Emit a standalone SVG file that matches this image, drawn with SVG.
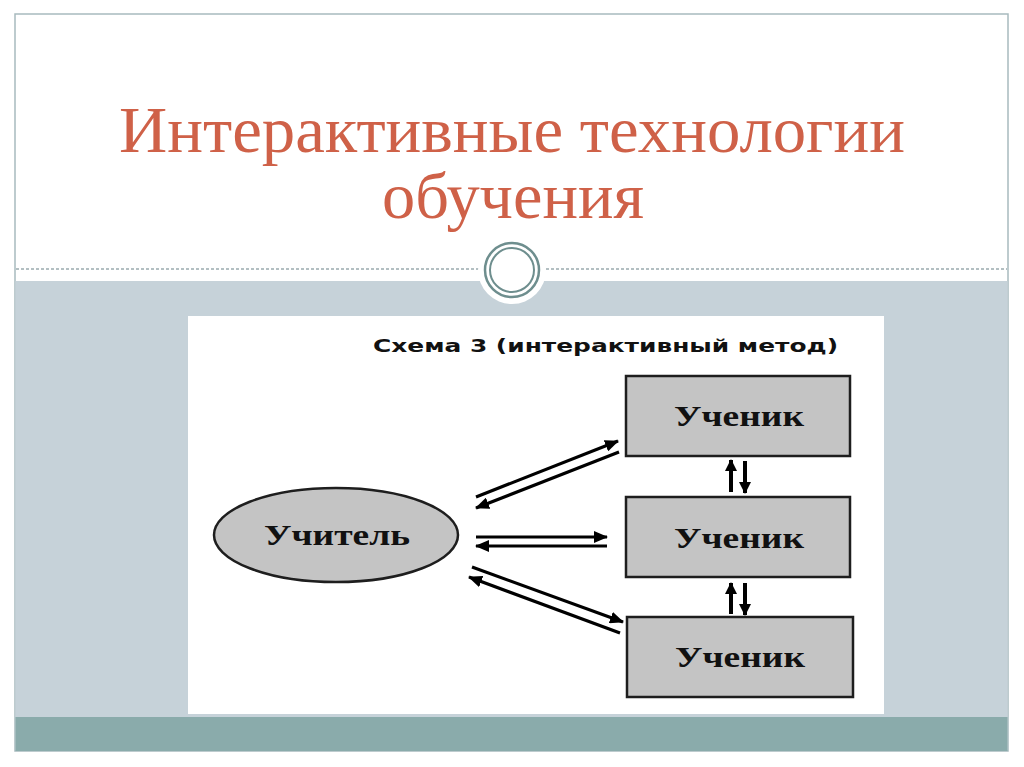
<svg xmlns="http://www.w3.org/2000/svg" width="1024" height="767" viewBox="0 0 1024 767">
<defs>
<style>
.title{font-family:"Liberation Serif","DejaVu Serif",serif;font-size:66px;fill:#cf6148;text-anchor:middle}
.node{fill:#c4c4c4;stroke:#1e1e1e;stroke-width:2.5}
.lbl{font-family:"Liberation Serif","DejaVu Serif",serif;font-weight:bold;font-size:30px;fill:#111;text-anchor:middle}
.cap{font-family:"DejaVu Sans","Liberation Sans",sans-serif;font-weight:bold;font-size:18px;fill:#111}
.ar{stroke:#000;stroke-width:3.2;fill:none;marker-end:url(#ah)}
.vr{stroke:#000;stroke-width:4;fill:none;marker-end:url(#vh)}
</style>
<marker id="ah" markerUnits="userSpaceOnUse" markerWidth="14" markerHeight="12" viewBox="0 0 14 12" refX="13" refY="6" orient="auto">
<path d="M0,0 L14,6 L0,12 Z" fill="#000"/>
</marker>
<marker id="vh" markerUnits="userSpaceOnUse" markerWidth="12" markerHeight="12" viewBox="0 0 12 12" refX="11" refY="6" orient="auto">
<path d="M0,0 L12,6 L0,12 Z" fill="#000"/>
</marker>
</defs>
<rect x="0" y="0" width="1024" height="767" fill="#ffffff"/>
<g id="slide-frame">
<rect x="15" y="14" width="993" height="737" fill="#ffffff" stroke="#a8babe" stroke-width="1.5"/>
<rect x="15.5" y="281" width="992" height="436" fill="#c6d2d9"/>
<rect x="15.5" y="717" width="992" height="34" fill="#8aabab"/>
<line x1="16" y1="269" x2="1007" y2="269" stroke="#9aabaf" stroke-width="1.5" stroke-dasharray="3,2"/>
<circle cx="512" cy="270" r="34" fill="#ffffff"/>
<circle cx="512" cy="270" r="27" fill="none" stroke="#6e8e8e" stroke-width="2.5"/>
<circle cx="512" cy="270" r="22" fill="#ffffff" stroke="#6e8e8e" stroke-width="2"/>
</g>
<g id="title">
<text class="title" x="512" y="152" textLength="786" lengthAdjust="spacingAndGlyphs">Интерактивные технологии</text>
<text class="title" x="513" y="218" textLength="262" lengthAdjust="spacingAndGlyphs">обучения</text>
</g>
<rect x="188" y="316" width="696" height="398" fill="#ffffff"/>
<text class="cap" x="373" y="352" textLength="465" lengthAdjust="spacingAndGlyphs">Схема 3 (интерактивный метод)</text>
<g id="teacher">
<ellipse class="node" cx="336" cy="535" rx="122" ry="47"/>
<text class="lbl" x="337" y="545" textLength="146" lengthAdjust="spacingAndGlyphs">Учитель</text>
</g>
<g id="student1">
<rect class="node" x="626" y="376" width="224" height="80"/>
<text class="lbl" x="739" y="426" textLength="130" lengthAdjust="spacingAndGlyphs">Ученик</text>
</g>
<g id="student2">
<rect class="node" x="626" y="497" width="224" height="80"/>
<text class="lbl" x="739" y="548" textLength="130" lengthAdjust="spacingAndGlyphs">Ученик</text>
</g>
<g id="student3">
<rect class="node" x="627" y="617" width="226" height="80"/>
<text class="lbl" x="740" y="667" textLength="130" lengthAdjust="spacingAndGlyphs">Ученик</text>
</g>
<g id="connectors">
<line class="ar" x1="476" y1="497" x2="618" y2="441"/>
<line class="ar" x1="619" y1="452" x2="476" y2="508"/>
<line class="ar" x1="476" y1="537" x2="607" y2="537"/>
<line class="ar" x1="607" y1="546" x2="476" y2="546"/>
<line class="ar" x1="472" y1="567" x2="623" y2="622"/>
<line class="ar" x1="620" y1="633" x2="469" y2="577"/>
<line class="vr" x1="731" y1="492" x2="731" y2="460"/>
<line class="vr" x1="745" y1="461" x2="745" y2="493"/>
<line class="vr" x1="731" y1="614" x2="731" y2="583"/>
<line class="vr" x1="745" y1="583" x2="745" y2="615"/>
</g>
</svg>
